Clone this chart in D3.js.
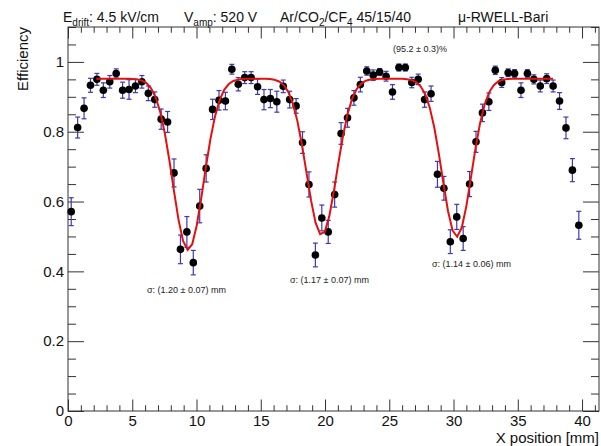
<!DOCTYPE html>
<html>
<head>
<meta charset="utf-8">
<script src="https://cdn.jsdelivr.net/npm/d3@7"></script>
<style>
  html, body { margin: 0; padding: 0; background: #fff; }
  svg { display: block; font-family: "Liberation Sans", Arial, Helvetica, sans-serif; }
</style>
</head>
<body>
<svg id="chart" width="601" height="446"></svg>
<script>
// ---- data ----
const xPositions = [
  0.25, 0.75, 1.25, 1.75, 2.25, 2.75, 3.25, 3.75, 4.25, 4.75,
  5.25, 5.75, 6.25, 6.75, 7.25, 7.75, 8.25, 8.75, 9.25, 9.75,
  10.25, 10.75, 11.25, 11.75, 12.25, 12.75, 13.25, 13.75, 14.25, 14.75,
  15.25, 15.75, 16.25, 16.75, 17.25, 17.75, 18.25, 18.75, 19.25, 19.75,
  20.25, 20.75, 21.25, 21.75, 22.25, 22.75, 23.25, 23.75, 24.25, 24.75,
  25.25, 25.75, 26.25, 26.75, 27.25, 27.75, 28.25, 28.75, 29.25, 29.75,
  30.25, 30.75, 31.25, 31.75, 32.25, 32.75, 33.25, 33.75, 34.25, 34.75,
  35.25, 35.75, 36.25, 36.75, 37.25, 37.75, 38.25, 38.75, 39.25, 39.75
];
const efficiency = [
  0.571, 0.812, 0.867, 0.933, 0.950, 0.919, 0.943, 0.967, 0.919, 0.921,
  0.931, 0.943, 0.910, 0.892, 0.836, 0.828, 0.682, 0.463, 0.513, 0.425,
  0.587, 0.695, 0.864, 0.890, 0.888, 0.979, 0.936, 0.955, 0.955, 0.929,
  0.892, 0.895, 0.886, 0.930, 0.892, 0.874, 0.769, 0.649, 0.447, 0.553,
  0.513, 0.620, 0.795, 0.840, 0.897, 0.935, 0.974, 0.962, 0.971, 0.959,
  0.914, 0.984, 0.984, 0.941, 0.950, 0.892, 0.909, 0.678, 0.638, 0.485,
  0.556, 0.494, 0.650, 0.771, 0.854, 0.886, 0.976, 0.941, 0.969, 0.967,
  0.919, 0.967, 0.950, 0.931, 0.952, 0.931, 0.888, 0.811, 0.690, 0.532
];
const effErrors = [
  0.040, 0.030, 0.030, 0.020, 0.017, 0.021, 0.018, 0.013, 0.023, 0.028,
  0.019, 0.018, 0.021, 0.022, 0.029, 0.030, 0.040, 0.041, 0.044, 0.035,
  0.048, 0.039, 0.029, 0.028, 0.025, 0.014, 0.019, 0.017, 0.017, 0.022,
  0.029, 0.026, 0.030, 0.018, 0.024, 0.021, 0.031, 0.036, 0.034, 0.037,
  0.033, 0.036, 0.031, 0.027, 0.021, 0.021, 0.012, 0.015, 0.010, 0.014,
  0.021, 0.010, 0.010, 0.015, 0.015, 0.022, 0.022, 0.037, 0.034, 0.034,
  0.036, 0.034, 0.036, 0.030, 0.025, 0.025, 0.012, 0.014, 0.011, 0.011,
  0.021, 0.011, 0.013, 0.017, 0.014, 0.017, 0.024, 0.031, 0.033, 0.040
];

// fit (plateau minus three gaussian dips), parameters
const fitPlateau = 0.952;
const dipCenters = [9.35, 19.74, 30.25];
const dipSigmas = [1.20, 1.17, 1.14];
const dipDepths = [0.491, 0.448, 0.453];
const fitRange = [2.2, 37.75];
const fitSamples = 100;

const xMajorTicks = [0, 5, 10, 15, 20, 25, 30, 35, 40];
const yMajorTicks = [0, 0.2, 0.4, 0.6, 0.8, 1.0];

const headerTexts = [
  { main: "E", sub: "drift", rest: ":  4.5 kV/cm", x: 63 },
  { main: "V", sub: "amp", rest: ": 520 V", x: 184 },
  { main: "Ar/CO", sub: "2", rest: "/CF", sub2: "4", rest2: " 45/15/40", x: 280 },
  { main: "\u03bc-RWELL-Bari", x: 458 }
];
const fitLabels = [
  { text: "(95.2 \u00b1 0.3)%", x: 393, y: 52 },
  { text: "\u03c3: (1.20 \u00b1 0.07) mm", x: 147, y: 292.5 },
  { text: "\u03c3: (1.17 \u00b1 0.07) mm", x: 290, y: 282.5 },
  { text: "\u03c3: (1.14 \u00b1 0.06) mm", x: 432, y: 266.5 }
];

// ---- layout ----
const W = 601, H = 446;
const frame = { left: 68, right: 599, top: 27, bottom: 411 };
const svg = d3.select("#chart");

const x = d3.scaleLinear().domain([0, 41.32]).range([frame.left, frame.right]);
const y = d3.scaleLinear().domain([0, 1.1]).range([frame.bottom, frame.top]);

const axisColor = "#333";
const xMinor = d3.range(0, 41.3, 1).filter(v => v % 5 !== 0);
const yMinor = d3.range(0, 1.1001, 0.05).map(v => +v.toFixed(2)).filter(v => Math.abs(v * 5 - Math.round(v * 5)) > 1e-6);

function styleAxis(g) {
  g.select(".domain").remove();
  g.selectAll(".tick line").attr("stroke", axisColor).attr("stroke-width", 1);
  g.selectAll(".tick text").attr("fill", "#111").attr("font-size", 15)
    .attr("font-family", "Liberation Sans, Arial, sans-serif");
}

// bottom axis
svg.append("g").attr("transform", `translate(0,${frame.bottom})`)
  .call(d3.axisBottom(x).tickValues(xMajorTicks).tickSize(-11.5).tickPadding(4).tickFormat(d3.format("d")))
  .call(styleAxis);
svg.append("g").attr("transform", `translate(0,${frame.bottom})`)
  .call(d3.axisBottom(x).tickValues(xMinor).tickSize(-5.75).tickFormat(""))
  .call(styleAxis);
// top axis
svg.append("g").attr("transform", `translate(0,${frame.top})`)
  .call(d3.axisTop(x).tickValues(xMajorTicks).tickSize(-11.5).tickFormat(""))
  .call(styleAxis);
svg.append("g").attr("transform", `translate(0,${frame.top})`)
  .call(d3.axisTop(x).tickValues(xMinor).tickSize(-5.75).tickFormat(""))
  .call(styleAxis);
// left axis
svg.append("g").attr("transform", `translate(${frame.left},0)`)
  .call(d3.axisLeft(y).tickValues(yMajorTicks).tickSize(-16).tickPadding(4).tickFormat(d3.format("~g")))
  .call(styleAxis);
svg.append("g").attr("transform", `translate(${frame.left},0)`)
  .call(d3.axisLeft(y).tickValues(yMinor).tickSize(-8).tickFormat(""))
  .call(styleAxis);
// right axis
svg.append("g").attr("transform", `translate(${frame.right},0)`)
  .call(d3.axisRight(y).tickValues(yMajorTicks).tickSize(-16).tickFormat(""))
  .call(styleAxis);
svg.append("g").attr("transform", `translate(${frame.right},0)`)
  .call(d3.axisRight(y).tickValues(yMinor).tickSize(-8).tickFormat(""))
  .call(styleAxis);

// frame
svg.append("rect")
  .attr("x", frame.left).attr("y", frame.top)
  .attr("width", frame.right - frame.left).attr("height", frame.bottom - frame.top)
  .attr("fill", "none").attr("stroke", axisColor).attr("stroke-width", 1);

// axis titles
svg.append("text")
  .attr("transform", `translate(28,${frame.top}) rotate(-90)`)
  .attr("text-anchor", "end").attr("font-size", 15).attr("fill", "#111")
  .text("Efficiency");
svg.append("text")
  .attr("x", frame.right).attr("y", 443)
  .attr("text-anchor", "end").attr("font-size", 15).attr("fill", "#111")
  .text("X position [mm]");

// data
const points = xPositions.map((xv, i) => ({ x: xv, e: efficiency[i], err: effErrors[i] }));
const errColor = "#3a3ab4";
const eg = svg.append("g");
eg.selectAll("line.bar").data(points).join("line").attr("class", "bar")
  .attr("x1", d => x(d.x)).attr("x2", d => x(d.x))
  .attr("y1", d => y(d.e - d.err)).attr("y2", d => y(d.e + d.err))
  .attr("stroke", errColor).attr("stroke-width", 1.2);
eg.selectAll("line.capTop").data(points).join("line").attr("class", "capTop")
  .attr("x1", d => x(d.x) - 2.5).attr("x2", d => x(d.x) + 2.5)
  .attr("y1", d => y(d.e + d.err)).attr("y2", d => y(d.e + d.err))
  .attr("stroke", errColor).attr("stroke-width", 1.2);
eg.selectAll("line.capBot").data(points).join("line").attr("class", "capBot")
  .attr("x1", d => x(d.x) - 2.5).attr("x2", d => x(d.x) + 2.5)
  .attr("y1", d => y(d.e - d.err)).attr("y2", d => y(d.e - d.err))
  .attr("stroke", errColor).attr("stroke-width", 1.2);
eg.selectAll("circle").data(points).join("circle")
  .attr("cx", d => x(d.x)).attr("cy", d => y(d.e)).attr("r", 3.8)
  .attr("fill", "#000");

// fit curve
function fitFn(xv) {
  let v = fitPlateau;
  for (let k = 0; k < dipCenters.length; k++) {
    const z = (xv - dipCenters[k]) / dipSigmas[k];
    v -= dipDepths[k] * Math.exp(-0.5 * z * z);
  }
  return v;
}
const curveX = d3.range(fitSamples + 1).map(i => fitRange[0] + (fitRange[1] - fitRange[0]) * i / fitSamples);
svg.append("path")
  .datum(curveX)
  .attr("d", d3.line().x(d => x(d)).y(d => y(fitFn(d))))
  .attr("fill", "none").attr("stroke", "#e41010").attr("stroke-width", 2);

// header texts
const hdr = svg.append("g").attr("font-size", 14).attr("fill", "#111");
headerTexts.forEach(h => {
  const t = hdr.append("text").attr("x", h.x).attr("y", 22);
  t.append("tspan").text(h.main);
  if (h.sub) {
    t.append("tspan").attr("font-size", 10).attr("dy", 4).text(h.sub);
    t.append("tspan").attr("dy", -4).text(h.rest);
  }
  if (h.sub2) {
    t.append("tspan").attr("font-size", 10).attr("dy", 4).text(h.sub2);
    t.append("tspan").attr("dy", -4).text(h.rest2);
  }
});

// fit labels
svg.append("g").selectAll("text").data(fitLabels).join("text")
  .attr("x", d => d.x).attr("y", d => d.y)
  .attr("font-size", 9).attr("fill", "#222")
  .text(d => d.text);
</script>
</body>
</html>
